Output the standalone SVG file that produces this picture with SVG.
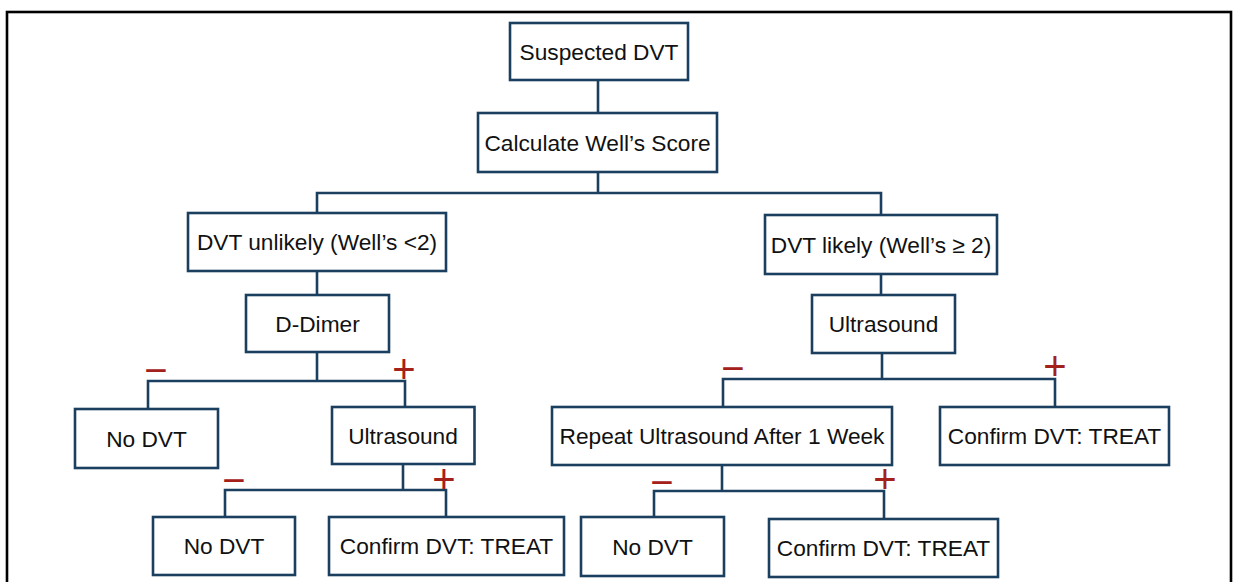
<svg xmlns="http://www.w3.org/2000/svg" width="1234" height="582" viewBox="0 0 1234 582">
<style>
.box{fill:#ffffff;stroke:#1b3f5f;stroke-width:2.6}
.lbl{font-family:"Liberation Sans",Arial,Helvetica,sans-serif;font-size:22.7px;fill:#111111;text-anchor:middle}
.sign{font-family:"Liberation Sans",Arial,Helvetica,sans-serif;font-size:40px;fill:#a3201b;text-anchor:middle}
.con{fill:none;stroke:#1b3f5f;stroke-width:2.6}
</style>
<rect x="0" y="0" width="1234" height="582" fill="#ffffff"/>
<rect x="7" y="12" width="1224" height="600" fill="none" stroke="#000000" stroke-width="2.6"/>
<g id="connectors">
<path class="con" d="M598 80V113"/>
<path class="con" d="M598 172V193M317 213V193H881V215"/>
<path class="con" d="M317 271V295"/>
<path class="con" d="M881 274V295"/>
<path class="con" d="M317 352V381M148 409V381H405V407"/>
<path class="con" d="M882 353V379M723 407V379H1055V407"/>
<path class="con" d="M403 464V490M225 517V490H446V517"/>
<path class="con" d="M722 465V491M654 517V491H884V519"/>
</g>
<g id="signs">
<text class="sign" x="156" y="384">−</text>
<text class="sign" x="404" y="383">+</text>
<text class="sign" x="733" y="382">−</text>
<text class="sign" x="1055" y="380">+</text>
<text class="sign" x="234" y="494">−</text>
<text class="sign" x="444" y="493">+</text>
<text class="sign" x="662" y="496">−</text>
<text class="sign" x="885" y="493">+</text>
</g>
<g id="suspected"><rect class="box" x="510" y="23" width="178" height="57"/><text class="lbl" x="599" y="59.5">Suspected DVT</text></g>
<g id="calculate"><rect class="box" x="478" y="113" width="239" height="59"/><text class="lbl" x="597.5" y="150.5">Calculate Well’s Score</text></g>
<g id="unlikely"><rect class="box" x="188" y="213" width="258" height="58"/><text class="lbl" x="317" y="250">DVT unlikely (Well’s &lt;2)</text></g>
<g id="likely"><rect class="box" x="765" y="215" width="232" height="59"/><text class="lbl" x="881" y="252.5">DVT likely (Well’s ≥ 2)</text></g>
<g id="ddimer"><rect class="box" x="246" y="295" width="143" height="57"/><text class="lbl" x="317.5" y="331.5">D-Dimer</text></g>
<g id="ultrasound-right"><rect class="box" x="812" y="295" width="143" height="58"/><text class="lbl" x="883.5" y="332">Ultrasound</text></g>
<g id="nodvt-1"><rect class="box" x="75" y="409" width="143" height="59"/><text class="lbl" x="146.5" y="446.5">No DVT</text></g>
<g id="ultrasound-left"><rect class="box" x="332" y="407" width="142.5" height="57"/><text class="lbl" x="403" y="443.5">Ultrasound</text></g>
<g id="repeat"><rect class="box" x="552" y="407" width="340" height="58"/><text class="lbl" x="722" y="444">Repeat Ultrasound After 1 Week</text></g>
<g id="confirm-1"><rect class="box" x="940" y="407" width="229" height="58"/><text class="lbl" x="1054.5" y="444">Confirm DVT: TREAT</text></g>
<g id="nodvt-2"><rect class="box" x="153" y="517" width="142" height="58"/><text class="lbl" x="224" y="554">No DVT</text></g>
<g id="confirm-2"><rect class="box" x="329" y="517" width="235" height="58"/><text class="lbl" x="446.5" y="554">Confirm DVT: TREAT</text></g>
<g id="nodvt-3"><rect class="box" x="581" y="517" width="143" height="59"/><text class="lbl" x="652.5" y="554.5">No DVT</text></g>
<g id="confirm-3"><rect class="box" x="769" y="519" width="229" height="58"/><text class="lbl" x="883.5" y="556">Confirm DVT: TREAT</text></g>
</svg>
